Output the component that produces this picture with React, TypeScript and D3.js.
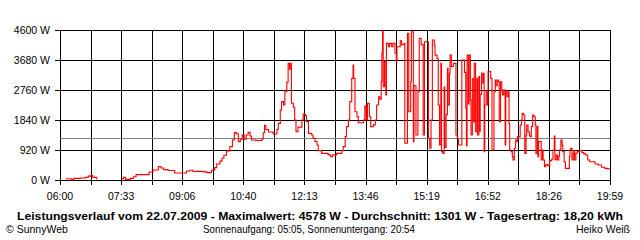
import React from "react";
import * as d3 from "d3";

const yTicks = [0, 920, 1840, 2760, 3680, 4600];
const xLabels = ["06:00", "07:33", "09:06", "10:40", "12:13", "13:46", "15:19", "16:52", "18:26", "19:59"];
const avgWatts = 1301;
const title = "Leistungsverlauf vom 22.07.2009 - Maximalwert: 4578 W - Durchschnitt: 1301 W - Tagesertrag: 18,20 kWh";
const footLeft = "© SunnyWeb";
const footMid = "Sonnenaufgang: 05:05, Sonnenuntergang: 20:54";
const footRight = "Heiko Weiß";

const times = [
  "06:09","06:18","06:21","06:31","06:38","06:43","06:47","06:50","06:56","06:58",
  "07:34","07:37","07:40","07:45","07:47","07:52","07:56","08:16","08:22","08:30",
  "08:34","08:38","08:45","08:55","09:13","09:18","09:23","09:29","09:39","09:44",
  "09:51","09:56","09:59","10:04","10:07","10:10","10:14","10:19","10:23","10:26",
  "10:29","10:32","10:35","10:38","10:41","10:44","10:47","10:50","10:52","10:59",
  "11:08","11:10","11:12","11:14","11:18","11:25","11:31","11:33","11:36","11:38",
  "11:41","11:43","11:46","11:48","11:50","11:52","11:53","11:56","11:58","12:00",
  "12:03","12:09","12:11","12:14","12:16","12:19","12:24","12:26","12:29","12:32",
  "12:34","12:39","12:49","12:53","12:56","13:02","13:10","13:12","13:15","13:17",
  "13:20","13:22","13:25","13:27","13:28","13:30","13:33","13:35","13:43","13:45",
  "13:47","13:49","13:52","13:54","13:58","14:01","14:03","14:06","14:08","14:10",
  "14:11","14:12","14:13","14:15","14:17","14:18","14:21","14:23","14:26","14:28",
  "14:31","14:33","14:34","14:39","14:41","14:45","14:46","14:50","14:52","14:55",
  "14:56","14:59","15:00","15:03","15:06","15:08","15:11","15:14","15:16","15:22",
  "15:24","15:26","15:28","15:31","15:32","15:35","15:37","15:39","15:41","15:42",
  "15:44","15:46","15:47","15:49","15:51","15:52","15:54","15:55","15:57","16:00",
  "16:04","16:06","16:08","16:13","16:17","16:19","16:20","16:21","16:23","16:24",
  "16:26","16:27","16:29","16:31","16:32","16:34","16:36","16:37","16:39","16:40",
  "16:41","16:43","16:44","16:46","16:47","16:48","16:50","16:52","16:53","16:57",
  "16:59","17:02","17:04","17:05","17:07","17:09","17:10","17:12","17:14","17:15",
  "17:17","17:19","17:20","17:22","17:24","17:25","17:26","17:28","17:30","17:31",
  "17:33","17:35","17:37","17:38","17:42","17:44","17:45","17:47","17:49","17:51",
  "17:52","17:54","17:56","17:57","17:59","18:01","18:03","18:05","18:06","18:08",
  "18:09","18:10","18:14","18:16","18:17","18:19","18:21","18:24","18:27","18:30",
  "18:32","18:34","18:35","18:37","18:39","18:41","18:42","18:44","18:46","18:47",
  "18:49","18:51","18:57","18:58","18:59","19:01","19:03","19:04","19:05","19:07",
  "19:09","19:12","19:16","19:19","19:22","19:25","19:28","19:36","19:41","19:46",
  "19:51","19:55","19:59"
];

const watts = [
  40,10,50,60,80,120,140,80,20,0,
  40,80,20,10,50,100,165,245,307,410,
  370,317,290,215,276,300,260,265,250,225,
  300,378,490,580,665,760,889,1022,1227,1452,
  1420,1176,1250,1380,1250,1380,1462,1350,1227,1210,
  1260,1450,1676,1550,1470,1410,1554,1738,2147,2402,
  2300,2708,3000,3578,3400,3578,2352,2229,1840,1482,
  1620,1840,2024,1980,1789,1431,1380,1278,1180,1073,
  900,818,770,716,770,818,900,1022,1329,1636,
  1840,2402,3118,3527,3118,2095,1943,1757,1840,2269,
  1840,2352,1940,1636,1690,1840,2300,2555,2480,3015,
  3885,4578,2862,3640,2607,4190,4090,4190,4090,4190,
  3885,3630,4088,4272,4150,4190,1125,4500,2095,3015,
  4548,1176,2900,1380,2708,4344,4150,1380,4240,1280,
  972,1840,4293,4140,3830,3732,2300,1073,3580,869,
  818,2850,1000,2000,3425,2300,3270,3833,3480,3578,
  1380,1278,1073,3680,3300,2200,1050,3833,2330,3833,
  2450,1380,3100,1780,3578,1480,3118,1380,3170,1480,
  2620,3280,2980,3270,869,2300,2708,2300,3322,3120,
  920,2708,3067,2890,3067,3015,1789,3015,2760,2610,
  2760,1073,2708,2555,2708,1720,920,870,716,613,
  972,1227,1176,1329,1687,1840,2044,1993,818,1380,
  1687,1480,1380,1330,1636,1993,1940,1690,818,1636,
  716,1176,613,920,613,409,470,440,593,640,
  920,1349,620,767,613,720,920,1227,1070,870,
  560,358,720,920,972,613,818,900,613,818,
  870,900,840,800,767,613,560,490,460,390,
  358,340,327
];

const toMin = (s: string) => {
  const [h, m] = s.split(":").map(Number);
  return h * 60 + m;
};

const FONT = "'Liberation Sans', Arial, sans-serif";

export default function App() {
  const left = 60, right = 610, top = 30, bottom = 180;
  const x = d3.scaleLinear().domain([toMin(xLabels[0]), toMin(xLabels[xLabels.length - 1])]).range([left, right]);
  const y = d3.scaleLinear().domain([0, 4600]).range([bottom, top]);
  const nTicks = (xLabels.length - 1) * 2;
  const tickScale = d3.scaleLinear().domain([0, nTicks]).range([left, right]);
  const tickIdx = d3.range(nTicks + 1);
  const labelPos = d3.scalePoint<string>().domain(xLabels).range([left, right]);

  const data = times.map((t, i) => ({ t: toMin(t), w: watts[i] }));
  const line = d3
    .line<{ t: number; w: number }>()
    .x((d) => x(d.t))
    .y((d) => y(d.w))
    .defined((d) => d.w > 0)
    .curve(d3.curveStepAfter);

  const px = (v: number) => Math.round(v) + 0.5;

  return (
    <svg
      width={640}
      height={240}
      style={{ position: "absolute", left: 0, top: 0, background: "#fff" }}
      fontFamily={FONT}
    >
      <rect x={0} y={0} width={640} height={240} fill="#fff" />
      {yTicks.map((v) => (
        <line key={"h" + v} x1={left - 5} x2={right} y1={px(y(v))} y2={px(y(v))} stroke="#000" strokeWidth={1} />
      ))}
      {tickIdx.map((i) => (
        <line key={"v" + i} x1={px(tickScale(i))} x2={px(tickScale(i))} y1={top} y2={bottom + 5} stroke="#000" strokeWidth={1} />
      ))}
      <line x1={left} x2={right} y1={px(y(avgWatts))} y2={px(y(avgWatts))} stroke="#808080" strokeWidth={1} />
      <path d={line(data) || ""} fill="none" stroke="#ff0000" strokeWidth={1.1} />
      {yTicks.map((v) => (
        <text key={"yl" + v} x={50} y={y(v) + 4} textAnchor="end" fontSize={10.5} fill="#000">
          {v} W
        </text>
      ))}
      {xLabels.map((l) => (
        <text key={"xl" + l} x={labelPos(l)} y={200} textAnchor="middle" fontSize={10.5} fill="#000">
          {l}
        </text>
      ))}
      <text x={17} y={219.5} fontSize={11} fontWeight="bold" textLength={606} lengthAdjust="spacingAndGlyphs" fill="#000">
        {title}
      </text>
      <text x={6} y={233} fontSize={10.5} fill="#000">{footLeft}</text>
      <text x={203} y={233} fontSize={10.5} fill="#000" textLength={212} lengthAdjust="spacingAndGlyphs">{footMid}</text>
      <text x={630} y={233} fontSize={10.5} fill="#000" textAnchor="end">{footRight}</text>
    </svg>
  );
}
